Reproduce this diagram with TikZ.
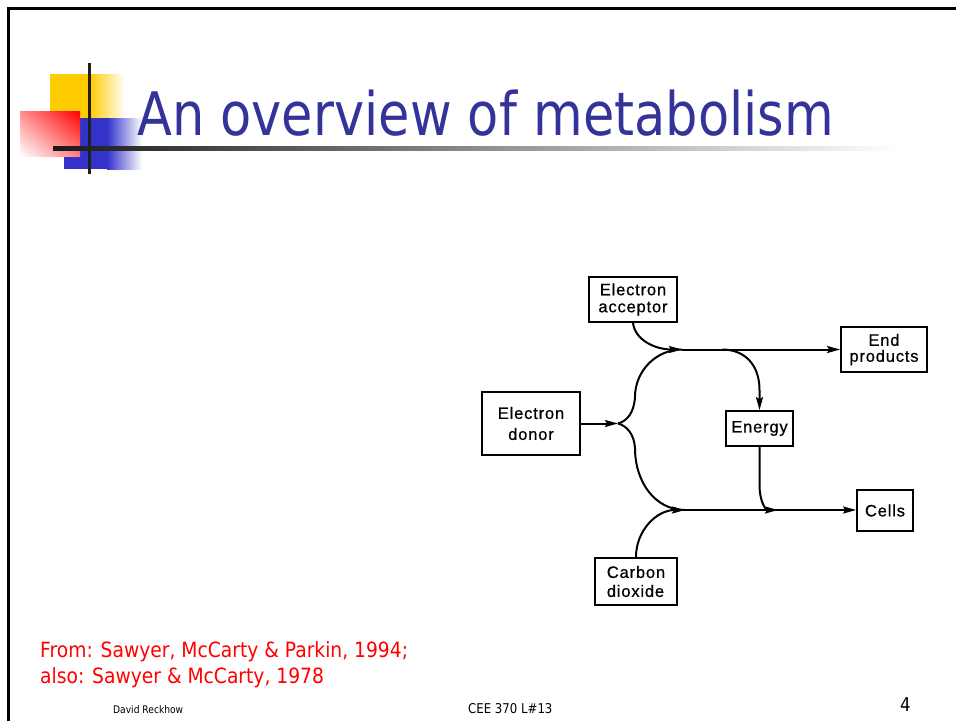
\documentclass[tikz,border=0pt]{standalone}
\usepackage{fontspec}
\setmainfont{DejaVu Sans}
\newfontfamily\diagfont[LetterSpace=5,FakeBold=0.6]{Liberation Sans}
\usetikzlibrary{arrows.meta,shadings}
\definecolor{titleblue}{RGB}{51,51,153}
\definecolor{logoyellow}{RGB}{255,204,0}
\definecolor{logoblue}{RGB}{51,51,204}
\definecolor{refred}{RGB}{255,0,0}
\tikzset{
  box/.style={draw, line width=1.7pt, inner sep=0pt, align=center, font=\diagfont\fontsize{16.5}{18}\selectfont},
  ln/.style={line width=2pt},
  arr/.style={ln, -{Stealth[length=13pt,width=7pt,inset=2pt]}},
  slidetext/.style={anchor=base west, inner sep=0pt}
}
\begin{document}
\begin{tikzpicture}[x=1pt,y=1pt]
\useasboundingbox[fill=white] (0,0) rectangle (956,-721);
% frame
\draw[line width=3pt] (8.5,-721) -- (8.5,-8.5) -- (956,-8.5);
% logo
\fill[logoyellow] (50,-74) rectangle (90,-118);
\shade[left color=logoyellow, right color=white] (90,-74) rectangle (125,-118);
\fill[logoblue] (64,-118) rectangle (107,-169);
\shade[left color=logoblue, right color=white] (107,-118) rectangle (142,-169);
\shade[upper right=refred, lower left=white, upper left=refred!45, lower right=refred!50] (20,-111) rectangle (80,-156);
\fill[black!88] (87.5,-63) rectangle (91,-174);
\shade[left color=black!90, right color=white] (53,-146.5) rectangle (900,-150);
% title
\node[slidetext, text=titleblue, font=\fontsize{60}{72}\selectfont] (title) at (137,-135) {\scalebox{0.85}[1]{An overview of metabolism}};
% boxes
\node[box, minimum width=88pt, minimum height=45pt, font=\diagfont\fontsize{16.5}{17}\selectfont] (acceptor) at (633,-299.5) {Electron\\acceptor};
\node[box, minimum width=98pt, minimum height=63pt, font=\diagfont\fontsize{16.5}{21}\selectfont] (donor) at (531,-423.5) {Electron\\donor};
\node[box, minimum width=86pt, minimum height=45pt, font=\diagfont\fontsize{16.5}{16}\selectfont] (endp) at (884,-349.5) {End\\products};
\node[box, minimum width=67pt, minimum height=35pt] (energy) at (759.5,-428.5) {Energy};
\node[box, minimum width=56pt, minimum height=41pt] (cells) at (885,-510.5) {Cells};
\node[box, minimum width=82pt, minimum height=47pt, align=left, font=\diagfont\fontsize{16.5}{19}\selectfont] (co2) at (636,-581.5) {Carbon\\dioxide};
% junctions
\coordinate (J) at (618,-423.5);
\coordinate (T) at (682,-349.5);
\coordinate (B) at (685,-510);
\coordinate (E1) at (722,-349.5);
\coordinate (E2) at (778,-510);
% connectors
\draw[arr] (donor.east) -- (J);
\draw[ln] (J) .. controls (627,-421) and (634,-413) .. (635,-397) .. controls (635,-371) and (656,-349.5) .. (T);
\draw[ln] (J) .. controls (627,-426) and (634,-434) .. (635,-448) .. controls (635,-482) and (655,-510) .. (B);
\draw[arr] (acceptor.south) .. controls (635,-340) and (655,-349.5) .. (T);
\draw[arr] (co2.north) .. controls (636,-530) and (657,-510) .. (B);
\draw[arr] (T) -- (endp.west);
\draw[arr] (B) -- (cells.west |- B);
\draw[arr] (E1) .. controls (745,-349.5) and (759.5,-365) .. (759.5,-390) -- (energy.north);
\draw[arr] (energy.south) -- (759.5,-485) .. controls (759.5,-500) and (765,-510) .. (E2);
% reference text
\node[slidetext, text=refred, font=\fontsize{21}{26}\selectfont] (ref1) at (40,-657) {\scalebox{0.89}[1]{From: Sawyer, McCarty \& Parkin, 1994;}};
\node[slidetext, text=refred, font=\fontsize{21}{26}\selectfont] (ref2) at (40,-683) {\scalebox{0.89}[1]{also: Sawyer \& McCarty, 1978}};
% footer
\node[slidetext, font=\fontsize{10.5}{12}\selectfont] (author) at (113,-713) {\scalebox{0.87}[1]{David Reckhow}};
\node[slidetext, font=\fontsize{13.5}{15}\selectfont] (course) at (468,-713) {\scalebox{0.87}[1]{CEE 370 L\#13}};
\node[slidetext, font=\fontsize{19}{22}\selectfont] (page) at (900,-711) {\scalebox{0.87}[1]{4}};
\end{tikzpicture}
\end{document}
